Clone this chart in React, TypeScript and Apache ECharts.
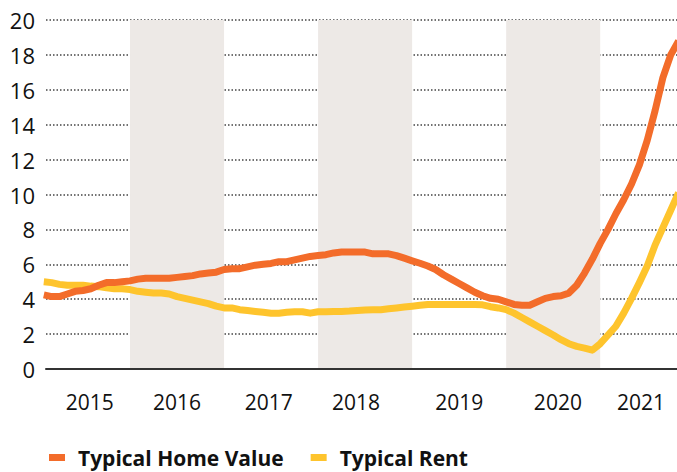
import React, { useEffect, useRef } from "react";
import * as echarts from "echarts";

// months since Jan 2015 (0 = Jan 2015)
const months: number[] = [
  1, 2, 3, 4, 5, 6, 7, 8, 9, 10, 11, 12, 13, 14, 15, 16, 17, 18, 19, 20,
  21, 22, 23, 24, 25, 26, 27, 28, 29, 30, 31, 32, 33, 34, 35, 36, 37, 38, 39, 40,
  41, 42, 43, 44, 45, 46, 47, 48, 49, 50, 51, 52, 53, 54, 55, 56, 57, 58, 59, 60,
  61, 62, 63, 64, 65, 66, 67, 68, 69, 70, 71, 72, 73, 74, 75, 76, 77, 78, 79, 80,
  81, 82,
];

const homeValue: number[] = [
  4.25, 4.15, 4.15, 4.3, 4.45, 4.5, 4.6, 4.8, 4.95, 4.95, 5.0, 5.05, 5.15, 5.2, 5.2, 5.2, 5.2, 5.25, 5.3, 5.35,
  5.45, 5.5, 5.55, 5.7, 5.75, 5.75, 5.85, 5.95, 6.0, 6.05, 6.15, 6.15, 6.25, 6.35, 6.45, 6.5, 6.55, 6.65, 6.7, 6.7,
  6.7, 6.7, 6.6, 6.6, 6.6, 6.5, 6.35, 6.2, 6.06, 5.9, 5.7, 5.4, 5.15, 4.9, 4.65, 4.4, 4.2, 4.05, 4.0, 3.85,
  3.7, 3.65, 3.65, 3.85, 4.05, 4.15, 4.2, 4.35, 4.8, 5.5, 6.3, 7.2, 8.0, 8.9, 9.7, 10.6, 11.7, 13.1, 14.8, 16.7,
  18.0, 18.8,
];

const rent: number[] = [
  5.0, 4.95, 4.85, 4.8, 4.8, 4.8, 4.75, 4.72, 4.65, 4.6, 4.6, 4.55, 4.45, 4.4, 4.35, 4.35, 4.3, 4.15, 4.05, 3.95,
  3.85, 3.75, 3.6, 3.5, 3.5, 3.4, 3.35, 3.3, 3.25, 3.2, 3.2, 3.25, 3.28, 3.28, 3.2, 3.28, 3.28, 3.3, 3.3, 3.32,
  3.35, 3.38, 3.4, 3.4, 3.45, 3.5, 3.55, 3.6, 3.65, 3.7, 3.7, 3.7, 3.7, 3.7, 3.7, 3.7, 3.68, 3.57, 3.5, 3.4,
  3.2, 2.95, 2.7, 2.45, 2.2, 1.95, 1.68, 1.45, 1.3, 1.2, 1.08, 1.45, 1.95, 2.45, 3.2, 4.05, 4.95, 5.9, 7.1, 8.1,
  9.1, 10.1,
];

const yearLabels: string[] = ["2015", "2016", "2017", "2018", "2019", "2020", "2021"];
const yearLabelPositions: number[] = [6.86, 18.0, 29.7, 40.85, 54.0, 66.6, 77.2];

// shaded year bands (months since Jan 2015)
const shadedBands: [number, number][] = [
  [12, 24],
  [36, 48],
  [60, 72],
];

const yTicks = { min: 0, max: 20, interval: 2 };
const xRange = { min: 1.28, max: 81.8 };

const ORANGE = "#F36C2A";
const YELLOW = "#FEC42D";
const FONT = "'Open Sans', sans-serif";

export default function App() {
  const ref = useRef<HTMLDivElement>(null);

  useEffect(() => {
    if (!ref.current) return;
    const chart = echarts.init(ref.current, null, { renderer: "svg" });

    const homeData = months.map((m, i) => [m, homeValue[i]]);
    const rentData = months.map((m, i) => [m, rent[i]]);

    chart.setOption({
      animation: false,
      backgroundColor: "#ffffff",
      textStyle: { fontFamily: FONT },
      grid: { left: 46, right: 0, top: 20, bottom: 103, containLabel: false },
      legend: {
        left: 44,
        top: 442,
        itemWidth: 16,
        itemHeight: 7,
        itemGap: 27,
        selectedMode: false,
        data: [
          { name: "Typical Home Value", icon: "rect", itemStyle: { color: ORANGE } },
          { name: "Typical Rent", icon: "rect", itemStyle: { color: YELLOW } },
        ],
        textStyle: {
          fontFamily: FONT,
          fontSize: 21,
          fontWeight: "bold",
          color: "#111",
          padding: [0, 0, 0, 8],
        },
      },
      xAxis: {
        type: "value",
        min: xRange.min,
        max: xRange.max,
        axisLine: { show: true, lineStyle: { color: "#333", width: 2 } },
        axisTick: { show: false },
        splitLine: { show: false },
        axisLabel: {
          customValues: yearLabelPositions,
          formatter: (v: number) => {
            let best = 0;
            let bd = Infinity;
            yearLabelPositions.forEach((p, i) => {
              const d = Math.abs(p - v);
              if (d < bd) {
                bd = d;
                best = i;
              }
            });
            return yearLabels[best];
          },
          margin: 22,
          fontSize: 21,
          color: "#111",
          fontFamily: FONT,
        },
      },
      yAxis: {
        type: "value",
        min: yTicks.min,
        max: yTicks.max,
        interval: yTicks.interval,
        axisLine: { show: false },
        axisTick: { show: false },
        axisLabel: {
          margin: 11,
          fontSize: 22,
          color: "#111",
          fontFamily: FONT,
        },
        splitLine: {
          show: true,
          lineStyle: { color: "#444", width: 1.5, type: [1.5, 2] },
        },
      },
      series: [
        {
          name: "Typical Rent",
          type: "line",
          data: rentData,
          showSymbol: false,
          symbol: "none",
          z: 3,
          lineStyle: { color: YELLOW, width: 7, join: "round" },
          itemStyle: { color: YELLOW },
          markArea: {
            silent: true,
            itemStyle: { color: "#EDE9E6" },
            data: shadedBands.map(([a, b]) => [{ xAxis: a }, { xAxis: b }]),
            z: 0,
          },
        },
        {
          name: "Typical Home Value",
          type: "line",
          data: homeData,
          showSymbol: false,
          symbol: "none",
          z: 4,
          lineStyle: { color: ORANGE, width: 7, join: "round" },
          itemStyle: { color: ORANGE },
        },
      ],
    });

    return () => chart.dispose();
  }, []);

  return (
    <div
      ref={ref}
      style={{ position: "fixed", left: 0, top: 0, width: 677, height: 472 }}
    />
  );
}
